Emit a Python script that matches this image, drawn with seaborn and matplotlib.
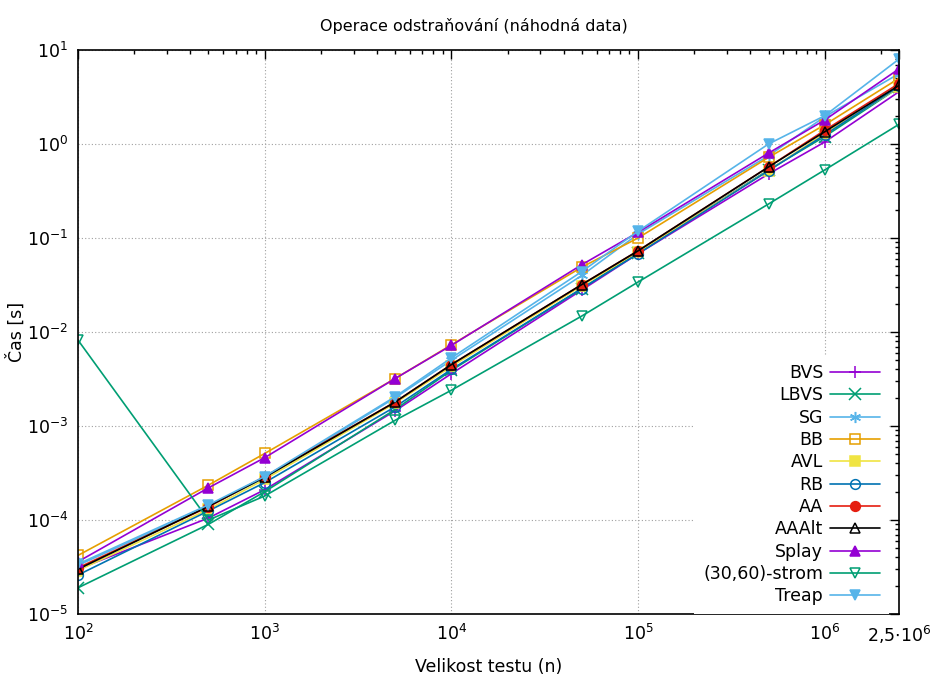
import numpy as np
import pandas as pd
import matplotlib
matplotlib.use("Agg")
import matplotlib.pyplot as plt
import matplotlib.ticker as mticker
import seaborn as sns

sizes = [100, 500, 1000, 5000, 10000, 50000, 100000, 500000, 1000000, 2500000]

bvs = [3.0e-5, 1.05e-4, 2.1e-4, 1.45e-3, 3.6e-3, 2.8e-2, 6.8e-2, 4.8e-1, 1.05, 3.6]
lbvs = [1.9e-5, 9.0e-5, 2.0e-4, 1.5e-3, 3.9e-3, 2.9e-2, 7.0e-2, 5.3e-1, 1.2, 4.0]
sg = [3.3e-5, 1.4e-4, 2.8e-4, 2.0e-3, 5.0e-3, 4.0e-2, 1.1e-1, 7.5e-1, 1.95, 5.6]
bb = [4.2e-5, 2.35e-4, 5.1e-4, 3.2e-3, 7.3e-3, 4.9e-2, 1.0e-1, 7.2e-1, 1.6, 5.0]
avl = [2.9e-5, 1.3e-4, 2.7e-4, 1.75e-3, 4.3e-3, 3.1e-2, 7.1e-2, 5.2e-1, 1.3, 4.0]
rb = [2.6e-5, 1.25e-4, 2.5e-4, 1.6e-3, 4.0e-3, 2.9e-2, 6.8e-2, 5.2e-1, 1.25, 4.1]
aa = [3.1e-5, 1.38e-4, 2.9e-4, 1.8e-3, 4.5e-3, 3.2e-2, 7.3e-2, 5.7e-1, 1.4, 4.4]
aaalt = [3.0e-5, 1.4e-4, 2.85e-4, 1.8e-3, 4.5e-3, 3.2e-2, 7.3e-2, 5.7e-1, 1.35, 4.2]
splay = [3.6e-5, 2.2e-4, 4.6e-4, 3.2e-3, 7.2e-3, 5.2e-2, 1.15e-1, 8.0e-1, 1.8, 6.3]
strom = [8.2e-3, 1.0e-4, 1.8e-4, 1.15e-3, 2.4e-3, 1.48e-2, 3.4e-2, 2.3e-1, 5.3e-1, 1.62]
treap = [3.4e-5, 1.45e-4, 2.9e-4, 2.05e-3, 5.3e-3, 4.4e-2, 1.18e-1, 1.0, 2.0, 8.0]

labels = ["BVS", "LBVS", "SG", "BB", "AVL", "RB", "AA", "AAAlt", "Splay", "(30,60)-strom", "Treap"]
series = [bvs, lbvs, sg, bb, avl, rb, aa, aaalt, splay, strom, treap]
colors = ["#9400d3", "#009e73", "#56b4e9", "#e69f00", "#f0e442", "#0072b2",
          "#e51e10", "#000000", "#9400d3", "#009e73", "#56b4e9"]
markers = ["+", "x", (6, 2, 0), "s", "s", "o", "o", "^", "^", "v", "v"]
filled = [True, True, True, False, True, False, True, False, True, False, True]

xticks = [1e2, 1e3, 1e4, 1e5, 1e6, 2.5e6]
xticklabels = [r"$10^{2}$", r"$10^{3}$", r"$10^{4}$", r"$10^{5}$", r"$10^{6}$", r"$2{,}5{\cdot}10^{6}$"]

sns.set_style("white")
plt.rcParams["font.family"] = ["DejaVu Sans"]
plt.rcParams["mathtext.fontset"] = "dejavusans"
plt.rcParams["text.color"] = "black"
plt.rcParams["axes.labelcolor"] = "black"
plt.rcParams["xtick.color"] = "black"
plt.rcParams["ytick.color"] = "black"

fig = plt.figure(figsize=(9.32, 6.77), dpi=100)
ax = fig.add_axes([78/932, 1-614/677, (899-78)/932, (614-50)/677])

for lab, vals, c, m, f in zip(labels, series, colors, markers, filled):
    df = pd.DataFrame({"n": sizes, "t": vals})
    kw = dict(markeredgecolor=c, markeredgewidth=1.1,
              markerfacecolor=(c if f else "none"))
    ms = 8 if m in ("+", "x", (6, 2, 0)) else 7
    sns.lineplot(data=df, x="n", y="t", ax=ax, color=c, marker=m, markersize=ms,
                 linewidth=1.2, label=lab, estimator=None, sort=False, **kw)

ax.set_xscale("log")
ax.set_yscale("log")
ax.set_xlim(100, 2.5e6)
ax.set_ylim(1e-5, 10)

ax.xaxis.set_major_locator(mticker.FixedLocator(xticks))
ax.xaxis.set_major_formatter(mticker.FixedFormatter(xticklabels))
ax.xaxis.set_minor_locator(mticker.LogLocator(base=10, subs=np.arange(2, 10), numticks=50))
ax.xaxis.set_minor_formatter(mticker.NullFormatter())
ax.yaxis.set_major_locator(mticker.LogLocator(base=10, numticks=20))
ax.yaxis.set_major_formatter(mticker.LogFormatterMathtext())
ax.yaxis.set_minor_locator(mticker.LogLocator(base=10, subs=np.arange(2, 10), numticks=50))
ax.yaxis.set_minor_formatter(mticker.NullFormatter())

ax.tick_params(which="both", direction="in", top=True, right=True, labelsize=12.5, colors="black")
ax.tick_params(which="major", length=6.5, width=1.0, pad=7)
ax.tick_params(which="minor", length=3.2, width=1.0)
for s in ax.spines.values():
    s.set_color("black")
    s.set_linewidth(1.2)

ax.grid(True, which="major", color="#a0a0a0", linestyle=(0, (1, 2)), linewidth=0.8)
ax.set_axisbelow(True)

ax.set_title("Operace odstraňování (náhodná data)", fontsize=11.5, pad=14, color="black",
             x=(474 - 78) / 821)
ax.set_xlabel("Velikost testu (n)", fontsize=12.5, labelpad=9)
ax.set_ylabel("Čas [s]", fontsize=12.5)
ax.yaxis.set_label_coords((26 - 78) / 821, 0.5)

leg = ax.legend(loc="lower right", bbox_to_anchor=(0.988, 0.0), fontsize=12.5,
                markerfirst=False, handlelength=2.9, handletextpad=0.4,
                labelspacing=0.25, borderpad=0.5, borderaxespad=0.0,
                frameon=True, fancybox=False, framealpha=1.0,
                facecolor="white", edgecolor="none", numpoints=1)
for t in leg.get_texts():
    t.set_color("black")

fig.savefig("out.png", dpi=100)
